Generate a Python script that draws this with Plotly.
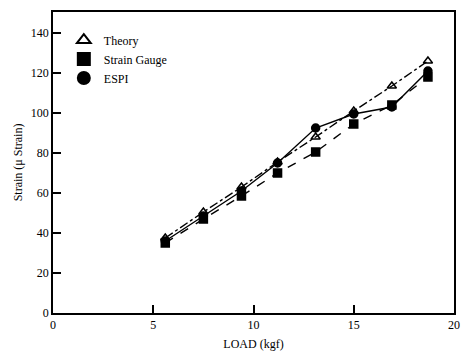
import plotly.graph_objects as go

load = [5.6, 7.5, 9.4, 11.2, 13.1, 15.0, 16.9, 18.7]
theory = [37.5, 50.5, 63.0, 75.5, 88.0, 101.0, 113.5, 126.0]
strain_gauge = [35.0, 47.0, 58.5, 70.0, 80.5, 94.5, 104.0, 118.0]
espi = [36.0, 48.5, 61.0, 75.0, 92.5, 99.5, 103.0, 121.0]

x_ticks = [0, 5, 10, 15, 20]
y_ticks = [0, 20, 40, 60, 80, 100, 120, 140]

series = [
    ("Theory", theory, "dashdot", "triangle-up-open"),
    ("Strain Gauge", strain_gauge, "dash", "square"),
    ("ESPI", espi, "solid", "circle"),
]

fig = go.Figure()
for name, vals, dash, sym in series:
    fig.add_trace(go.Scatter(x=load, y=vals, mode="lines",
                             line=dict(color="black", width=1.4, dash=dash),
                             showlegend=False, hoverinfo="skip"))
for name, vals, dash, sym in series:
    fig.add_trace(go.Scatter(x=load, y=vals, mode="markers", name=name,
                             marker=dict(symbol=sym, size=8, color="black",
                                         line=dict(color="black", width=1.5))))

font_family = "Liberation Serif, Times New Roman, serif"
fig.update_layout(
    width=470, height=359,
    margin=dict(l=53, r=12, t=10, b=40),
    paper_bgcolor="white", plot_bgcolor="white",
    font=dict(family=font_family, size=12, color="black"),
    showlegend=True,
    legend=dict(x=0.027, y=0.955, xanchor="left", yanchor="top",
                bgcolor="rgba(0,0,0,0)", font=dict(size=12, family=font_family),
                itemsizing="constant"),
    xaxis=dict(range=[0, 20], tickvals=x_ticks, ticks="inside", ticklen=8,
               tickwidth=1.5, tickcolor="black", showgrid=False, zeroline=False,
               showline=True, linecolor="black", linewidth=1.5, mirror=True,
               title=dict(text="LOAD (kgf)", font=dict(size=12), standoff=8),
               tickfont=dict(size=12)),
    yaxis=dict(range=[0, 150.5], tickvals=y_ticks, ticks="inside", ticklen=8,
               tickwidth=1.5, tickcolor="black", showgrid=False, zeroline=False,
               showline=True, linecolor="black", linewidth=1.5, mirror=True,
               title=dict(text="Strain (μ Strain)", font=dict(size=12), standoff=6),
               tickfont=dict(size=12)),
)

fig.write_html("out.html", config={"displayModeBar": False},
               post_script="document.body.style.margin='0';document.body.style.overflow='hidden';")
